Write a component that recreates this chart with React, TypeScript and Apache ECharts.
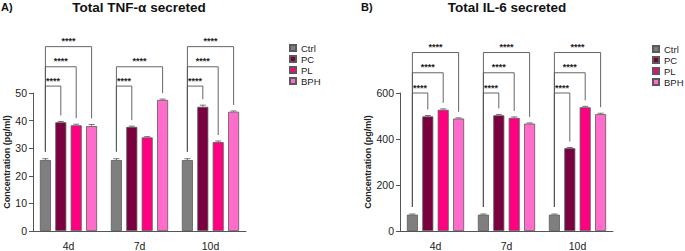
import React, { useEffect, useRef } from "react";
import * as echarts from "echarts";

const categories = ["4d", "7d", "10d"];
const groups = ["Ctrl", "PC", "PL", "BPH"];
const colors = ["#7f7f7f", "#7a0040", "#ff0080", "#ff6ccb"];

// Panel A: TNF-α (pg/ml)
const tnfValues = [
  [25.7, 25.7, 25.7], // Ctrl
  [39.4, 37.7, 45.0], // PC
  [38.3, 33.9, 32.2], // PL
  [38.0, 47.5, 43.2], // BPH
];
const tnfErrors = [
  [0.5, 0.5, 0.5],
  [0.3, 0.3, 0.6],
  [0.4, 0.3, 0.4],
  [0.6, 0.3, 0.3],
];
const tnfTicks = { min: 0, max: 50, interval: 10 };
const tnfBracketLevels = [52.5, 59.5, 66.8];
// [category, from group, to group, level]
const tnfBrackets = [
  [0, 0, 1, 0],
  [0, 0, 2, 1],
  [0, 0, 3, 2],
  [1, 0, 1, 0],
  [1, 0, 3, 1],
  [2, 0, 1, 0],
  [2, 0, 2, 1],
  [2, 0, 3, 2],
];

// Panel B: IL-6 (pg/ml)
const il6Values = [
  [71, 71, 71],
  [498, 503, 360],
  [527, 492, 538],
  [489, 467, 508],
];
const il6Errors = [
  [3, 3, 3],
  [4, 4, 3],
  [4, 4, 4],
  [3, 3, 4],
];
const il6Ticks = { min: 0, max: 600, interval: 200 };
const il6BracketLevels = [600, 688, 776];
const il6Brackets = [
  [0, 0, 1, 0],
  [0, 0, 2, 1],
  [0, 0, 3, 2],
  [1, 0, 1, 0],
  [1, 0, 2, 1],
  [1, 0, 3, 2],
  [2, 0, 1, 0],
  [2, 0, 2, 1],
  [2, 0, 3, 2],
];

const sigLabel = "****";
const yName = "Concentration (pg/ml)";

const FONT = "Liberation Sans, Arial, sans-serif";
const BAR_W = 11;
const PITCH = 15.4;
const offsets = [-1.5, -0.5, 0.5, 1.5].map((k) => k * PITCH);
const LINE = "#555555";

function panelSeries(
  idx: number,
  values: number[][],
  errors: number[][],
  levels: number[],
  brackets: number[][]
) {
  const series: any[] = [];
  groups.forEach((g, gi) => {
    series.push({
      type: "bar",
      name: g,
      xAxisIndex: idx,
      yAxisIndex: idx,
      data: values[gi],
      barWidth: BAR_W,
      barGap: "40%",
      itemStyle: { color: colors[gi], borderColor: "#5a5a5a", borderWidth: 0.8 },
      emphasis: { disabled: true },
    });
  });
  // error bars
  const errData: number[][] = [];
  groups.forEach((_, gi) =>
    categories.forEach((_, ci) => errData.push([ci, values[gi][ci], errors[gi][ci], gi]))
  );
  series.push({
    type: "custom",
    xAxisIndex: idx,
    yAxisIndex: idx,
    clip: false,
    silent: true,
    encode: { x: 0, y: 1 },
    data: errData,
    renderItem: (params: any, api: any) => {
      const ci = api.value(0);
      const v = api.value(1);
      const e = api.value(2);
      const gi = api.value(3);
      const c = api.coord([ci, v]);
      const top = api.coord([ci, v + e]);
      const x = c[0] + offsets[gi];
      return {
        type: "group",
        children: [
          { type: "line", shape: { x1: x, y1: c[1], x2: x, y2: top[1] }, style: { stroke: "#555", lineWidth: 0.8 } },
          { type: "line", shape: { x1: x - 3, y1: top[1], x2: x + 3, y2: top[1] }, style: { stroke: "#555", lineWidth: 0.8 } },
        ],
      };
    },
  });
  // significance brackets
  series.push({
    type: "custom",
    xAxisIndex: idx,
    yAxisIndex: idx,
    clip: false,
    silent: true,
    encode: { x: 0, y: 1 },
    data: brackets.map((b) => [b[0], levels[b[3]], b[1], b[2]]),
    renderItem: (params: any, api: any) => {
      const ci = api.value(0);
      const lv = api.value(1);
      const from = api.value(2);
      const to = api.value(3);
      const yLine = api.coord([ci, lv])[1];
      const c = api.coord([ci, 0]);
      const x1 = c[0] + offsets[from];
      const x2 = c[0] + offsets[to];
      const yEnd1 = api.coord([ci, values[from][ci] + errors[from][ci]])[1] - 7;
      const yEnd2 = api.coord([ci, values[to][ci] + errors[to][ci]])[1] - 6;
      return {
        type: "group",
        children: [
          {
            type: "polyline",
            shape: { points: [[x1, yEnd1], [x1, yLine], [x2, yLine], [x2, yEnd2]] },
            style: { stroke: LINE, lineWidth: 0.9, fill: "none" },
          },
          {
            type: "text",
            x: (x1 + x2) / 2,
            y: yLine - 5.5,
            style: {
              text: sigLabel,
              fontFamily: FONT,
              fontSize: 9,
              fontWeight: "bold",
              fill: "#222",
              align: "center",
              verticalAlign: "middle",
            },
          },
        ],
      };
    },
  });
  return series;
}

function axisPair(idx: number, ticks: { min: number; max: number; interval: number }) {
  const x = {
    type: "category",
    gridIndex: idx,
    data: categories,
    axisLine: { lineStyle: { color: LINE, width: 1 } },
    axisTick: { alignWithLabel: true, length: 4, lineStyle: { color: LINE } },
    axisLabel: { color: "#222", fontFamily: FONT, fontSize: 10.5, margin: 9 },
  };
  const y = {
    type: "value",
    gridIndex: idx,
    min: ticks.min,
    max: ticks.max,
    interval: ticks.interval,
    name: yName,
    nameLocation: "middle",
    nameRotate: 90,
    nameGap: 21,
    nameTextStyle: { color: "#222", fontFamily: FONT, fontSize: 9, fontWeight: "bold" },
    axisLine: { show: true, lineStyle: { color: LINE, width: 1 } },
    axisTick: { show: true, length: 4, lineStyle: { color: LINE } },
    axisLabel: { color: "#222", fontFamily: FONT, fontSize: 10.5, margin: 6 },
    splitLine: { show: false },
  };
  return { x, y };
}

export default function App() {
  const ref = useRef<HTMLDivElement>(null);
  useEffect(() => {
    document.body.style.margin = "0";
    if (!ref.current) return;
    const chart = echarts.init(ref.current, null, { renderer: "svg" });
    const a = axisPair(0, tnfTicks);
    const b = axisPair(1, il6Ticks);
    const legendCommon = {
      orient: "vertical",
      icon: "rect",
      padding: 0,
      itemWidth: 6,
      itemHeight: 6,
      itemGap: 1,
      data: groups,
      selectedMode: false,
      textStyle: { color: "#222", fontFamily: FONT, fontSize: 9.5, lineHeight: 10 },
    };
    chart.setOption({
      animation: false,
      backgroundColor: "#ffffff",
      title: [
        { text: "A)", left: 1, top: 1, padding: 0, textStyle: { fontFamily: FONT, fontSize: 11, fontWeight: "bold", color: "#111" } },
        {
          text: "Total TNF-α secreted",
          left: 139,
          top: 0,
          padding: 0,
          textAlign: "center",
          textStyle: { fontFamily: FONT, fontSize: 13.5, fontWeight: "bold", color: "#111" },
        },
        { text: "B)", left: 361, top: 1, padding: 0, textStyle: { fontFamily: FONT, fontSize: 11, fontWeight: "bold", color: "#111" } },
        {
          text: "Total IL-6 secreted",
          left: 507,
          top: 0,
          padding: 0,
          textAlign: "center",
          textStyle: { fontFamily: FONT, fontSize: 13.5, fontWeight: "bold", color: "#111" },
        },
      ],
      legend: [
        { ...legendCommon, left: 289, top: 43 },
        { ...legendCommon, left: 652, top: 44 },
      ],
      grid: [
        { left: 33, width: 213, top: 93, bottom: 17, containLabel: false },
        { left: 400, width: 213, top: 93, bottom: 17, containLabel: false },
      ],
      xAxis: [a.x, b.x],
      yAxis: [a.y, b.y],
      series: [
        ...panelSeries(0, tnfValues, tnfErrors, tnfBracketLevels, tnfBrackets),
        ...panelSeries(1, il6Values, il6Errors, il6BracketLevels, il6Brackets),
      ],
    });
    return () => chart.dispose();
  }, []);
  return <div ref={ref} style={{ width: 685, height: 251 }} />;
}
